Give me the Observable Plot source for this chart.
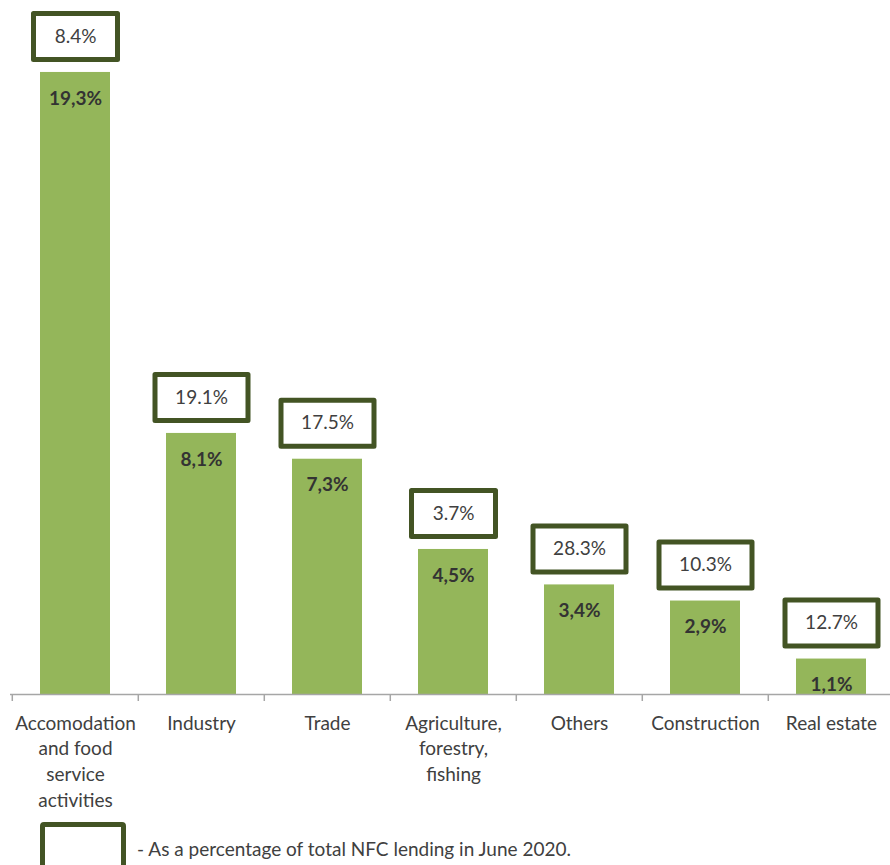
<!DOCTYPE html>
<html>
<head>
<meta charset="utf-8">
<script src="https://cdn.jsdelivr.net/npm/d3@7"></script>
<script src="https://cdn.jsdelivr.net/npm/@observablehq/plot@0.6"></script>
<style>
  html, body { margin: 0; padding: 0; background: #fff; overflow: hidden; }
  body { width: 890px; height: 865px; font-family: Lato, "Open Sans", sans-serif; }
  #legend { display: flex; align-items: center; margin-top: 7px; }
  #legend .box { box-sizing: border-box; width: 86px; height: 52px; margin-left: 40px; border: 5px solid #435424; border-radius: 4px; background: #fff; }
  #legend .txt { margin-left: 11px; font-size: 19px; color: #404040; }
</style>
</head>
<body>
<div id="chart"></div>
<div id="legend"><div class="box"></div><div class="txt">- As a percentage of total NFC lending in June 2020.</div></div>
<script>
const categories = ["Accomodation and food service activities", "Industry", "Trade", "Agriculture, forestry, fishing", "Others", "Construction", "Real estate"];
const tickLabels = ["Accomodation\nand food\nservice\nactivities", "Industry", "Trade", "Agriculture,\nforestry,\nfishing", "Others", "Construction", "Real estate"];
const values = [19.3, 8.1, 7.3, 4.5, 3.4, 2.9, 1.1];
const shares = [8.4, 19.1, 17.5, 3.7, 28.3, 10.3, 12.7];

const data = categories.map((c, i) => ({cat: c, label: tickLabels[i], value: values[i], share: shares[i]}));

const green = "#94b65a";
const olive = "#435424";
const textColor = "#404040";
const xRange = [10, 895];
const step = (xRange[1] - xRange[0]) / categories.length;

function boxSymbol(w, h) {
  return {draw(ctx) { ctx.rect(-w / 2, -h / 2, w, h); }};
}
const shareText = d => d.share.toFixed(1) + "%";
const shortBox = data.filter(d => shareText(d).length <= 4);
const longBox = data.filter(d => shareText(d).length > 4);

const chart = Plot.plot({
  width: 890,
  height: 815,
  marginLeft: 10,
  marginRight: 0,
  marginTop: 0,
  marginBottom: 121,
  style: {fontFamily: "Lato, 'Open Sans', sans-serif", background: "#fff"},
  x: {domain: categories, range: xRange, paddingInner: 0.446, paddingOuter: 0.223, axis: null, label: null},
  y: {domain: [0, 20], range: [694, 694 - 20 * 32.23], axis: null},
  marks: [
    Plot.barY(data, {x: "cat", y: "value", fill: green}),
    Plot.ruleY([0], {stroke: "#a6a6a6", strokeWidth: 1.5}),
    Plot.axisX({tickSize: 7, tickFormat: () => "", label: null, dx: -step / 2, stroke: "#a6a6a6", strokeWidth: 1.5, tickPadding: 0}),
    Plot.text(data, {x: "cat", y: 0, text: "label", dy: 17, lineAnchor: "top", lineHeight: 1.35, fontSize: 19, fill: textColor}),
    Plot.text(data, {x: "cat", y: "value", text: d => d.value.toFixed(1).replace(".", ",") + "%", dy: 26, fontSize: 19, fontWeight: "bold", fill: "#333333"}),
    Plot.dot(shortBox, {x: "cat", y: "value", dy: -36, symbol: boxSymbol(84, 46), fill: "#fff", stroke: olive, strokeWidth: 5, strokeLinejoin: "round"}),
    Plot.dot(longBox, {x: "cat", y: "value", dy: -36, symbol: boxSymbol(93, 46), fill: "#fff", stroke: olive, strokeWidth: 5, strokeLinejoin: "round"}),
    Plot.text(data, {x: "cat", y: "value", text: shareText, dy: -36, fontSize: 19, fill: textColor})
  ]
});
document.getElementById("chart").appendChild(chart);
</script>
</body>
</html>
